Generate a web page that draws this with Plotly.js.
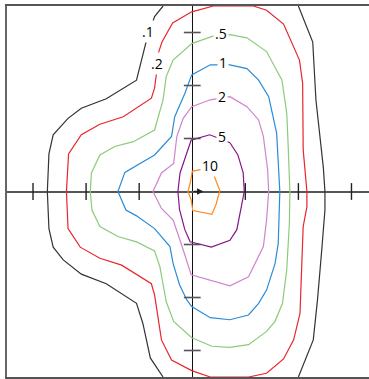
<!DOCTYPE html>
<html>
<head>
<meta charset="utf-8">
<script src="https://cdn.plot.ly/plotly-3.0.1.min.js"></script>
<style>
  html, body { margin: 0; padding: 0; background: #fff; overflow: hidden; }
  #myDiv { width: 369px; height: 379px; }
</style>
</head>
<body>
<div id="myDiv"></div>
<script>
// contour levels and their colours
var levels = ['.1', '.2', '.5', '1', '2', '5', '10'];
var colors = ['#333333', '#e8262b', '#8ccb7a', '#2b8bd6', '#cf84cc', '#86148c', '#ff8a1c'];

// contour outlines (null splits the .1 line in two pieces)
var x01 = [-0.55, -0.71, -0.86, -1.05, -1.62, -2.09, -2.34, -2.62, -2.70, -2.73, -2.70, -2.62, -2.43, -2.09, -1.62, -1.05, -0.93, -0.79, -0.55,
           null, 2.00, 2.27, 2.33, 2.47, 2.50, 2.50, 2.44, 2.36, 2.28, 2.00];
var y01 = [3.50, 3.30, 2.86, 2.10, 1.75, 1.57, 1.38, 1.07, 0.71, 0.00, -0.70, -1.05, -1.29, -1.56, -1.74, -2.11, -2.49, -3.14, -3.50,
           null, 3.50, 2.82, 1.73, 0.45, 0.00, -0.35, -1.10, -2.04, -2.80, -3.50];

var x02 = [1.15, 0.40, -0.01, -0.37, -0.57, -0.63, -0.67, -0.71, -0.77, -1.30, -1.74, -2.09, -2.33, -2.37, -2.34, -2.11, -1.74, -1.33, -0.77, -0.71,
           -0.58, -0.39, -0.01, 0.34, 1.06, 1.40, 1.72, 1.91, 2.03, 2.09, 2.16, 2.16, 2.09, 2.08, 2.02, 1.72, 1.40, 1.15];
var y02 = [3.50, 3.50, 3.39, 3.18, 2.82, 2.64, 2.26, 1.95, 1.76, 1.41, 1.27, 1.07, 0.71, 0.00, -0.70, -1.05, -1.26, -1.39, -1.74, -1.95,
           -2.80, -3.18, -3.38, -3.50, -3.50, -3.43, -3.16, -2.80, -2.30, -0.66, -0.29, 0.00, 0.79, 2.04, 2.48, 3.16, 3.42, 3.50];

var x05 = [0.71, 0.39, -0.01, -0.36, -0.49, -0.55, -0.71, -1.11, -1.46, -1.74, -1.90, -1.92, -1.89, -1.74, -1.40, -1.05, -0.71, -0.61, -0.49, -0.35,
           -0.01, 0.37, 0.71, 1.06, 1.40, 1.56, 1.70, 1.78, 1.83, 1.84, 1.80, 1.78, 1.69, 1.40, 1.03, 0.71];
var y05 = [2.96, 2.93, 2.79, 2.48, 2.17, 1.73, 1.16, 0.94, 0.85, 0.69, 0.35, 0.00, -0.35, -0.66, -0.85, -0.95, -1.12, -1.42, -2.08, -2.45,
           -2.76, -2.92, -2.94, -2.89, -2.64, -2.45, -2.11, -1.48, -0.60, 0.00, 1.04, 1.48, 2.10, 2.64, 2.90, 2.96];

var x1 = [0.71, 0.34, -0.01, -0.14, -0.33, -0.39, -0.71, -1.27, -1.40, -1.25, -1.05, -0.71, -0.42, -0.36, -0.24, -0.10, -0.01,
          0.34, 0.71, 1.06, 1.25, 1.40, 1.56, 1.62, 1.65, 1.59, 1.44, 1.25, 1.03, 0.71];
var y1 = [2.39, 2.39, 2.20, 1.85, 1.41, 1.04, 0.69, 0.36, 0.00, -0.35, -0.46, -0.70, -1.04, -1.36, -1.76, -2.05, -2.17,
          -2.38, -2.42, -2.33, -2.11, -1.86, -1.36, -0.98, 0.00, 1.10, 1.79, 2.10, 2.32, 2.39];

var x2 = [0.71, 0.34, -0.01, -0.17, -0.29, -0.35, -0.58, -0.74, -0.58, -0.36, -0.20, -0.02, 0.71, 1.06, 1.34, 1.40, 1.44, 1.42, 1.34, 1.25, 1.03, 0.71];
var y2 = [1.79, 1.73, 1.60, 1.38, 1.04, 0.53, 0.35, 0.00, -0.32, -0.54, -1.01, -1.57, -1.78, -1.61, -1.04, -0.54, 0.00, 0.41, 1.04, 1.35, 1.60, 1.79];

var x5 = [0.71, 0.33, -0.02, -0.12, -0.23, -0.27, -0.24, -0.14, -0.04, 0.36, 0.71, 0.84, 0.93, 0.98, 0.96, 0.86, 0.71];
var y5 = [0.92, 1.07, 0.97, 0.69, 0.35, 0.00, -0.34, -0.72, -0.95, -1.05, -0.92, -0.72, -0.29, 0.00, 0.35, 0.69, 0.92];

var x10 = [0.39, 0.52, 0.45, 0.37, 0.01, -0.02, -0.08, -0.03, 0.00, 0.24, 0.39];
var y10 = [0.35, 0.02, -0.24, -0.43, -0.36, -0.16, 0.00, 0.20, 0.38, 0.43, 0.35];

// label positions
var labelX = [-0.84, -0.66, 0.55, 0.57, 0.56, 0.56, 0.34];
var labelY = [3.02, 2.42, 2.98, 2.43, 1.80, 1.03, 0.49];

// tick positions on the crossing axes
var tickVals = [-3, -2, -1, 1, 2, 3];
var tickZeros = [0, 0, 0, 0, 0, 0];

var xs = [x01, x02, x05, x1, x2, x5, x10];
var ys = [y01, y02, y05, y1, y2, y5, y10];

var data = [];
for (var i = 0; i < xs.length; i++) {
    data.push({
        x: xs[i],
        y: ys[i],
        mode: 'lines',
        line: {color: colors[i], width: 1.2},
        connectgaps: false,
        hoverinfo: 'skip'
    });
}

data.push({
    x: tickVals,
    y: tickZeros,
    mode: 'markers',
    marker: {symbol: 'line-ns', size: 12, line: {color: '#222', width: 1.4}},
    hoverinfo: 'skip'
});
data.push({
    x: tickZeros,
    y: tickVals,
    mode: 'markers',
    marker: {symbol: 'line-ew', size: 12, line: {color: '#555', width: 1.6}},
    hoverinfo: 'skip'
});

var annotations = [];
for (var j = 0; j < levels.length; j++) {
    annotations.push({
        x: labelX[j],
        y: labelY[j],
        text: levels[j],
        showarrow: false,
        bgcolor: '#fff',
        borderpad: 1,
        font: {family: 'Open Sans', size: 14, color: '#000'}
    });
}
// the little arrow at the origin
annotations.push({
    x: 0.21, y: 0, ax: 0, ay: 0,
    xref: 'x', yref: 'y', axref: 'x', ayref: 'y',
    text: '',
    showarrow: true,
    arrowhead: 2,
    arrowsize: 0.9,
    arrowwidth: 1.4,
    arrowcolor: '#222'
});

var layout = {
    width: 369,
    height: 379,
    margin: {l: 7, r: 0, t: 6, b: 2},
    paper_bgcolor: '#fff',
    plot_bgcolor: '#fff',
    showlegend: false,
    hovermode: false,
    xaxis: {
        range: [-3.49, 3.33],
        showgrid: false,
        showticklabels: false,
        ticks: '',
        zeroline: true,
        zerolinecolor: '#111',
        zerolinewidth: 1.5,
        showline: true,
        mirror: true,
        linecolor: '#555',
        linewidth: 2
    },
    yaxis: {
        range: [-3.5, 3.5],
        showgrid: false,
        showticklabels: false,
        ticks: '',
        zeroline: true,
        zerolinecolor: '#555',
        zerolinewidth: 2,
        showline: true,
        mirror: false,
        linecolor: '#666',
        linewidth: 2
    },
    annotations: annotations
};

Plotly.newPlot('myDiv', data, layout, {displayModeBar: false, staticPlot: true});
</script>
</body>
</html>
